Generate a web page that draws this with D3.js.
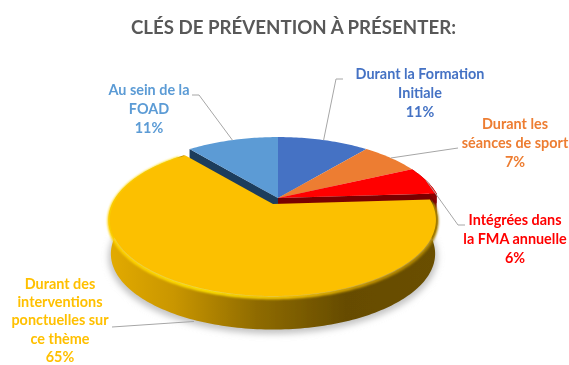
<!DOCTYPE html>
<html>
<head>
<meta charset="utf-8">
<script src="https://cdn.jsdelivr.net/npm/d3@7"></script>
<style>
  html, body { margin: 0; padding: 0; background: #fff; }
  text { font-family: Lato, "Open Sans", sans-serif; font-weight: 700; }
</style>
</head>
<body>
<div id="plot"></div>
<script>
var width = 569, height = 365;

// data, clockwise from 12 o'clock
var labels = [
    ['Durant la Formation', 'Initiale'],
    ['Durant les', 'séances de sport'],
    ['Intégrées dans', 'la FMA annuelle'],
    ['Durant des', 'interventions', 'ponctuelles sur', 'ce thème'],
    ['Au sein de la', 'FOAD']
];
var values = [11, 7, 6, 65, 11];
var colors = ['#4472c4', '#ed7d31', '#ff0000', '#fcc000', '#5b9bd5'];
var labelColors = ['#4472c4', '#ed7d31', '#ff0000', '#ffc000', '#5b9bd5'];

// label placement: centre x, first baseline, line step, then leader elbow + end
var labelPos = [
    {x: 420, y: 79, step: 18.8, leader: [[336, 79], [343, 79]]},
    {x: 515, y: 129, step: 18.8, leader: [[458, 148]]},
    {x: 515, y: 225, step: 18.8, leader: [[458, 225], [465, 225]]},
    {x: 60, y: 289, step: 18.2, leader: [[112, 327]]},
    {x: 149, y: 95, step: 18.8, leader: [[199, 95], [192, 95]]}
];

var depth = 34;

// perspective ellipse
var R = 161, Ry = 73.6, k = 0.208;
var apex = [278, 198];
var yellowApex = [273, 204];

function project(angle, c, s) {
    s = s || 1;
    var u = Math.sin(angle), v = -Math.cos(angle), w = 1 - k * v;
    return [c[0] + s * R * u / w, c[1] + s * Ry * v / w];
}

function arcPoints(a0, a1, c, s, dy) {
    var n = Math.max(2, Math.ceil((a1 - a0) / 0.02));
    return d3.range(n + 1).map(function(i) {
        var p = project(a0 + (a1 - a0) * i / n, c, s);
        return [p[0], p[1] + (dy || 0)];
    });
}

var pie = d3.pie().sort(null).value(function(d) { return d; });
var slices = pie(values);
var line = d3.line();

var svg = d3.select('#plot').append('svg')
    .attr('width', width)
    .attr('height', height)
    .style('display', 'block');

var defs = svg.append('defs');

function blur(id, sd) {
    defs.append('filter').attr('id', id)
        .attr('x', '-10%').attr('y', '-20%').attr('width', '120%').attr('height', '140%')
        .append('feGaussianBlur').attr('stdDeviation', sd);
}
blur('soft', 0.45);
blur('rimBlur', 0.8);
blur('shadowBlur', 3);

function hGradient(id, stops) {
    var g = defs.append('linearGradient').attr('id', id)
        .attr('gradientUnits', 'userSpaceOnUse')
        .attr('x1', 108).attr('x2', 438).attr('y1', 0).attr('y2', 0);
    stops.forEach(function(s) {
        g.append('stop').attr('offset', s[0]).attr('stop-color', s[1]);
    });
}
hGradient('sideFill', [[0, '#e3ab00'], [0.2, '#c99600'], [0.45, '#8f6b00'], [0.72, '#664c00'], [1, '#6a4f00']]);
hGradient('rimFill', [[0, '#ffd000'], [0.3, '#ffe000'], [0.55, '#f6c400'], [0.8, '#c49400'], [1, '#a88000']]);

var yellow = slices[3];
var root = svg.append('g').attr('filter', 'url(#soft)');

// shadow under the pie
root.append('path')
    .attr('d', line(arcPoints(0, 2 * Math.PI, yellowApex, 1, depth + 3)) + 'Z')
    .attr('fill', '#c4c4c4')
    .attr('filter', 'url(#shadowBlur)');

// walls of the back slices, seen through the gap of the pulled out slice
function wall(angle, c, fill) {
    var p = project(angle, c);
    root.append('path')
        .attr('d', line([c, p, [p[0], p[1] + depth], [c[0], c[1] + depth]]) + 'Z')
        .attr('fill', fill);
}
wall(slices[4].startAngle, apex, '#1f3d5c');
wall(slices[2].endAngle, apex, '#7a0000');

// outer side of the red slice
var redTop = arcPoints(slices[2].startAngle, slices[2].endAngle, apex);
root.append('path')
    .attr('d', line(redTop.concat(arcPoints(slices[2].startAngle, slices[2].endAngle, apex, 1, 10).reverse())) + 'Z')
    .attr('fill', '#8a0000');

// tops of the back slices
[0, 1, 2, 4].forEach(function(i) {
    var d = slices[i];
    root.append('path')
        .attr('d', line([apex].concat(arcPoints(d.startAngle, d.endAngle, apex))) + 'Z')
        .attr('fill', colors[i]);
});

// yellow slice side, from right edge round the front to the left
var sideTop = arcPoints(yellow.startAngle, yellow.endAngle, yellowApex);
var sideBottom = arcPoints(yellow.startAngle, yellow.endAngle, yellowApex, 0.985, depth);
root.append('path')
    .attr('d', line(sideTop.concat(sideBottom.reverse())) + 'Z')
    .attr('fill', 'url(#sideFill)');

// bevel on the rim
root.append('path')
    .attr('d', line(arcPoints(yellow.startAngle + 0.05, yellow.endAngle - 0.05, yellowApex, 0.995, 1)))
    .attr('fill', 'none')
    .attr('stroke', 'url(#rimFill)')
    .attr('stroke-width', 3.5)
    .attr('filter', 'url(#rimBlur)');

// yellow top
root.append('path')
    .attr('d', line([yellowApex].concat(arcPoints(yellow.startAngle, yellow.endAngle, yellowApex, 0.99))) + 'Z')
    .attr('fill', colors[3]);

// leaders, starting on the rim at the middle of each slice
slices.forEach(function(d, i) {
    var mid = (d.startAngle + d.endAngle) / 2;
    var start = i === 3 ? project(mid, yellowApex) : project(mid, apex);
    if (i === 3) start[1] += depth;
    root.append('path')
        .attr('d', line([start].concat(labelPos[i].leader)))
        .attr('fill', 'none')
        .attr('stroke', '#a6a6a6')
        .attr('stroke-width', 1);
});

// labels
slices.forEach(function(d, i) {
    var txt = root.append('text')
        .attr('text-anchor', 'middle')
        .attr('fill', labelColors[i])
        .style('font-size', '14.4px');
    labels[i].concat([values[i] + '%']).forEach(function(s, j) {
        txt.append('tspan')
            .attr('x', labelPos[i].x)
            .attr('y', labelPos[i].y + j * labelPos[i].step)
            .text(s);
    });
});

// title
root.append('text')
    .attr('x', 293.5)
    .attr('y', 34)
    .attr('text-anchor', 'middle')
    .attr('fill', '#595959')
    .style('font-size', '18.7px')
    .text('CLÉS DE PRÉVENTION À PRÉSENTER:');
</script>
</body>
</html>
